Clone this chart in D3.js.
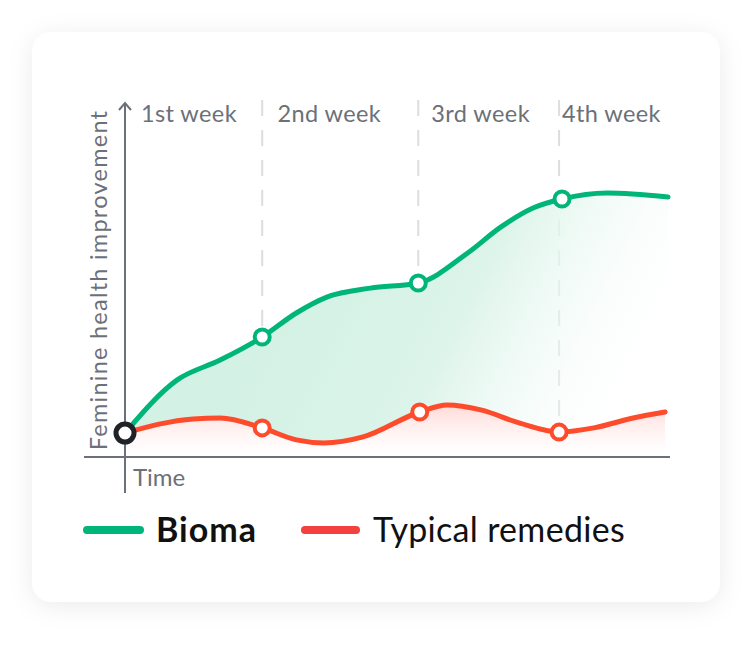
<!DOCTYPE html>
<html><head><meta charset="utf-8">
<script src="https://cdn.jsdelivr.net/npm/d3@7"></script>
<style>
html,body{margin:0;padding:0;background:#fff;}
svg{display:block;font-family:Lato, "Open Sans", sans-serif;}
</style></head>
<body>
<script>
// Time in weeks (t), improvement score (v)
const weekLabels = ["1st week", "2nd week", "3rd week", "4th week"];
const weekDividers = [0.945, 2.02, 2.99];
const weekLabelStart = [0.11, 1.05, 2.11, 3.01];

const biomaT = [0, 0.36, 0.655, 0.945, 1.18, 1.39, 1.69, 2.02, 2.36, 2.59, 2.81, 3.01, 3.32, 3.74];
const biomaV = [8, 25.7, 32.3, 40, 48, 53.3, 56.3, 58, 68, 76.7, 83, 86, 88, 86.7];
const biomaMarkers = [0.945, 2.02, 3.01];
const biomaMarkerV = [40, 58, 86];

const typicalT = [0, 0.47, 0.655, 0.945, 1.18, 1.37, 1.64, 2.03, 2.22, 2.45, 2.72, 2.99, 3.23, 3.5, 3.72];
const typicalV = [8, 12.7, 13, 9.7, 5.7, 4.7, 6.7, 15, 17.3, 15.7, 11.3, 8.3, 9.7, 13, 15];
const typicalMarkers = [0.945, 2.03, 2.99];
const typicalMarkerV = [9.7, 15, 8.3];

const seriesNames = ["Bioma", "Typical remedies"];
const yAxisTitle = "Feminine health improvement";
const xAxisTitle = "Time";

const W = 752, H = 650;
const svg = d3.select("body").append("svg").attr("width", W).attr("height", H);
const defs = svg.append("defs");

// card shadow
const f = defs.append("filter").attr("id","shadow").attr("x","-20%").attr("y","-20%").attr("width","140%").attr("height","140%");
f.append("feDropShadow").attr("dx",0).attr("dy",4).attr("stdDeviation",12).attr("flood-color","#000").attr("flood-opacity",0.08);

svg.append("rect").attr("x",32).attr("y",32).attr("width",688).attr("height",570).attr("rx",20)
  .attr("fill","#fff").attr("filter","url(#shadow)");

const x = d3.scaleLinear().domain([0, 3.74]).range([125, 668]);
const y = d3.scaleLinear().domain([0, 100]).range([457, 157]);

const green = "#00b57a", red = "#fd4b2c";

// gradients
const gg = defs.append("linearGradient").attr("id","gGreen").attr("gradientUnits","userSpaceOnUse")
  .attr("x1",300).attr("y1",250).attr("x2",640).attr("y2",420);
gg.append("stop").attr("offset","0").attr("stop-color","#d3f1e4");
gg.append("stop").attr("offset","0.45").attr("stop-color","#dcf4ea");
gg.append("stop").attr("offset","1").attr("stop-color","#ffffff").attr("stop-opacity",0);
const rg = defs.append("linearGradient").attr("id","gRed").attr("x1",0).attr("y1",0).attr("x2",0).attr("y2",1);
rg.append("stop").attr("offset","0").attr("stop-color","#ffd9d6");
rg.append("stop").attr("offset","1").attr("stop-color","#ffffff").attr("stop-opacity",0.3);

const bioma = biomaT.map((t,i)=>[t, biomaV[i]]);
const typical = typicalT.map((t,i)=>[t, typicalV[i]]);
const curve = d3.curveMonotoneX;

// dashed week dividers
svg.selectAll("line.div").data(weekDividers).join("line")
  .attr("x1",d=>x(d)).attr("x2",d=>x(d)).attr("y1",100).attr("y2",460)
  .attr("stroke","#dcdde1").attr("stroke-width",2).attr("stroke-dasharray","16,14");

// green area (to axis) then red area on top
svg.append("path").datum(bioma)
  .attr("d", d3.area().x(d=>x(d[0])).y0(y(0)).y1(d=>y(d[1])).curve(curve))
  .attr("fill","url(#gGreen)");
svg.append("path").datum(typical)
  .attr("d", d3.area().x(d=>x(d[0])).y0(y(0)).y1(d=>y(d[1])).curve(curve))
  .attr("fill","#fff");
svg.append("path").datum(typical)
  .attr("d", d3.area().x(d=>x(d[0])).y0(y(0)).y1(d=>y(d[1])).curve(curve))
  .attr("fill","url(#gRed)");

// axes
const axisCol = "#6b7079";
svg.append("line").attr("x1",84).attr("x2",670).attr("y1",y(0)).attr("y2",y(0)).attr("stroke",axisCol).attr("stroke-width",2);
svg.append("line").attr("x1",x(0)).attr("x2",x(0)).attr("y1",103).attr("y2",493).attr("stroke",axisCol).attr("stroke-width",2);
svg.append("path").attr("d",`M${x(0)-6},${110} L${x(0)},${103} L${x(0)+6},${110}`)
  .attr("fill","none").attr("stroke",axisCol).attr("stroke-width",2);

// lines
const line = d3.line().x(d=>x(d[0])).y(d=>y(d[1])).curve(curve);
svg.append("path").datum(typical).attr("d",line).attr("fill","none").attr("stroke",red).attr("stroke-width",5).attr("stroke-linecap","round");
svg.append("path").datum(bioma).attr("d",line).attr("fill","none").attr("stroke",green).attr("stroke-width",5).attr("stroke-linecap","round");

// markers
svg.selectAll("circle.g").data(biomaMarkers).join("circle")
  .attr("cx",d=>x(d)).attr("cy",(d,i)=>y(biomaMarkerV[i])).attr("r",7.5)
  .attr("fill","#fff").attr("stroke",green).attr("stroke-width",4);
svg.selectAll("circle.r").data(typicalMarkers).join("circle")
  .attr("cx",d=>x(d)).attr("cy",(d,i)=>y(typicalMarkerV[i])).attr("r",7.5)
  .attr("fill","#fff").attr("stroke",red).attr("stroke-width",4);
svg.append("circle").attr("cx",x(biomaT[0])).attr("cy",y(biomaV[0])).attr("r",9)
  .attr("fill","#fff").attr("stroke","#1f2226").attr("stroke-width",5);

// texts
const txtCol = "#6b7079";
svg.selectAll("text.wk").data(weekLabels).join("text")
  .attr("x",(d,i)=>x(weekLabelStart[i])).attr("y",121.5)
  .attr("fill",txtCol).attr("font-size",23.5).attr("letter-spacing",0.4).text(d=>d);
svg.append("text").attr("transform",`translate(106.5,280) rotate(-90)`).attr("text-anchor","middle")
  .attr("fill",txtCol).attr("font-size",23.5).attr("letter-spacing",1.25).text(yAxisTitle);
svg.append("text").attr("x",133).attr("y",485.5).attr("fill",txtCol).attr("font-size",24).text(xAxisTitle);

// legend
svg.append("line").attr("x1",87).attr("x2",140).attr("y1",530).attr("y2",530).attr("stroke",green).attr("stroke-width",8).attr("stroke-linecap","round");
svg.append("text").attr("x",156).attr("y",542).attr("font-size",34).attr("font-weight",700).attr("letter-spacing",1).attr("fill","#111").text(seriesNames[0]);
svg.append("line").attr("x1",305).attr("x2",356).attr("y1",530).attr("y2",530).attr("stroke","#f2413f").attr("stroke-width",8).attr("stroke-linecap","round");
svg.append("text").attr("x",373).attr("y",542).attr("font-size",34).attr("letter-spacing",0.3).attr("fill","#111").text(seriesNames[1]);
</script>
</body></html>
